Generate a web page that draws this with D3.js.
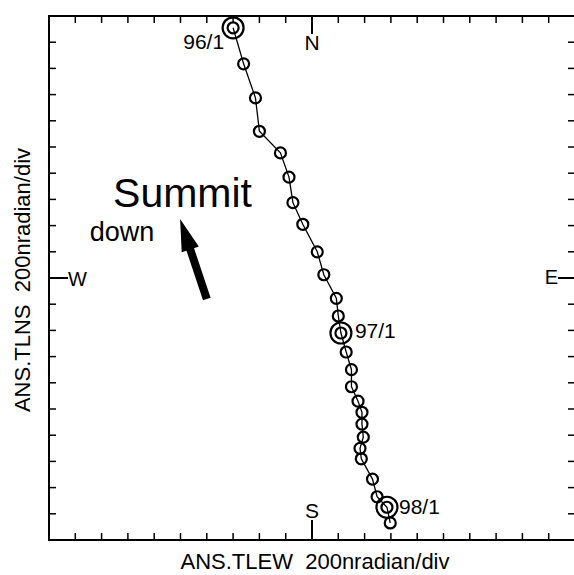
<!DOCTYPE html>
<html>
<head>
<meta charset="utf-8">
<script src="https://cdn.jsdelivr.net/npm/d3@7"></script>
<style>
  body { margin: 0; background: #fff; }
  svg { display: block; font-family: "Liberation Sans", Arial, sans-serif; }
  text { white-space: pre; }
</style>
</head>
<body>
<svg width="574" height="575"></svg>
<script>
// monthly tilt readings, Jan 1996 .. Feb 1998 (nradian)
var months = ['96/1','96/2','96/3','96/4','96/5','96/6','96/7','96/8','96/9','96/10','96/11','96/12',
              '97/1','97/2','97/3','97/4','97/5','97/6','97/7','97/8','97/9','97/10','97/11','97/12',
              '98/1','98/2'];
var tlew = [-600, -520, -430, -400, -240, -175, -145, -70, 40, 90, 185, 200,
            220, 260, 300, 300, 350, 380, 380, 390, 365, 375, 460, 495,
            570, 595];
var tlns = [1910, 1635, 1375, 1120, 955, 770, 575, 410, 200, 25, -155, -290,
            -420, -565, -700, -830, -940, -1025, -1115, -1215, -1300, -1380, -1535, -1670,
            -1750, -1870];
var marked = ['96/1', '97/1', '98/1'];
var tickValues = d3.range(-2000, 2001, 200);

var svg = d3.select('svg');

var x = d3.scaleLinear().domain([-2000, 2000]).range([49, 575]);
var y = d3.scaleLinear().domain([-2000, 2000]).range([540, 16]);

var pts = months.map(function (m, i) { return { m: m, x: tlew[i], y: tlns[i] }; });

// frame
svg.append('rect')
    .attr('x', x(-2000)).attr('y', y(2000))
    .attr('width', x(2000) - x(-2000) + 1).attr('height', y(-2000) - y(2000))
    .attr('fill', 'none').attr('stroke', '#000').attr('stroke-width', 2);

// inward ticks on all four sides
var inner = tickValues.filter(function (v) { return v !== -2000 && v !== 2000 && v !== 0; });
var tk = svg.append('g').attr('stroke', '#000').attr('stroke-width', 1.5);
inner.forEach(function (v) {
    tk.append('line').attr('x1', x(v)).attr('x2', x(v)).attr('y1', y(2000)).attr('y2', y(2000) + 7);
    tk.append('line').attr('x1', x(v)).attr('x2', x(v)).attr('y1', y(-2000)).attr('y2', y(-2000) - 7);
    tk.append('line').attr('y1', y(v)).attr('y2', y(v)).attr('x1', x(-2000)).attr('x2', x(-2000) + 7);
    tk.append('line').attr('y1', y(v)).attr('y2', y(v)).attr('x1', x(2000)).attr('x2', x(2000) - 7);
});

// compass ticks
var ct = svg.append('g').attr('stroke', '#000').attr('stroke-width', 2);
ct.append('line').attr('x1', x(0)).attr('x2', x(0)).attr('y1', y(2000)).attr('y2', y(2000) + 18);
ct.append('line').attr('x1', x(0)).attr('x2', x(0)).attr('y1', y(-2000)).attr('y2', y(-2000) - 20);
ct.append('line').attr('y1', y(0)).attr('y2', y(0)).attr('x1', x(-2000)).attr('x2', x(-2000) + 19);
ct.append('line').attr('y1', y(0)).attr('y2', y(0)).attr('x1', x(2000)).attr('x2', x(2000) - 17);

svg.append('text').text('N').attr('x', x(0)).attr('y', y(2000) + 34)
    .attr('text-anchor', 'middle').style('font-size', '21px');
svg.append('text').text('S').attr('x', x(0)).attr('y', y(-2000) - 22)
    .attr('text-anchor', 'middle').style('font-size', '21px');
svg.append('text').text('W').attr('x', x(-2000) + 19).attr('y', y(0) + 8)
    .style('font-size', '20px');
svg.append('text').text('E').attr('x', x(2000) - 17).attr('y', y(0) + 6)
    .attr('text-anchor', 'end').style('font-size', '20px');

// axis titles
svg.append('text').text('ANS.TLEW  200nradian/div')
    .attr('x', 315).attr('y', 569).attr('text-anchor', 'middle')
    .style('font-size', '22px');
svg.append('text').text('ANS.TLNS  200nradian/div')
    .attr('transform', 'translate(30,280) rotate(-90)')
    .attr('text-anchor', 'middle').style('font-size', '22px');

// track
var line = d3.line().x(function (d) { return x(d.x); }).y(function (d) { return y(d.y); });
svg.append('path').datum(pts).attr('d', line)
    .attr('fill', 'none').attr('stroke', '#000').attr('stroke-width', 1.3);

svg.append('g').selectAll('circle').data(pts).join('circle')
    .attr('cx', function (d) { return x(d.x); })
    .attr('cy', function (d) { return y(d.y); })
    .attr('r', 5.5)
    .attr('fill', 'none').attr('stroke', '#000').attr('stroke-width', 2.2);

var big = pts.filter(function (d) { return marked.indexOf(d.m) >= 0; });
svg.append('g').selectAll('circle').data(big).join('circle')
    .attr('cx', function (d) { return x(d.x); })
    .attr('cy', function (d) { return y(d.y); })
    .attr('r', 10.5)
    .attr('fill', 'none').attr('stroke', '#000').attr('stroke-width', 2.2);

var labelOff = { '96/1': [-9, 21, 'end'], '97/1': [14, 5, 'start'], '98/1': [12, 7, 'start'] };
svg.append('g').selectAll('text').data(big).join('text')
    .text(function (d) { return d.m; })
    .attr('x', function (d) { return x(d.x) + labelOff[d.m][0]; })
    .attr('y', function (d) { return y(d.y) + labelOff[d.m][1]; })
    .attr('text-anchor', function (d) { return labelOff[d.m][2]; })
    .style('font-size', '21px');

// summit-down annotation
svg.append('text').text('Summit').attr('x', x(-1513)).attr('y', y(542))
    .style('font-size', '41px');
svg.append('text').text('down').attr('x', x(-1690)).attr('y', y(282))
    .style('font-size', '27px');

var tip = [x(-1003), y(450)], tail = [x(-800), y(-160)];
var dx = tip[0] - tail[0], dy = tip[1] - tail[1];
var len = Math.sqrt(dx * dx + dy * dy), ang = Math.atan2(dy, dx) * 180 / Math.PI;
var headL = 32, headW = 9, shaftW = 4;
svg.append('path')
    .attr('transform', 'translate(' + tail[0] + ',' + tail[1] + ') rotate(' + ang + ')')
    .attr('d', 'M0,' + (-shaftW) + 'L' + (len - headL) + ',' + (-shaftW) +
               'L' + (len - headL) + ',' + (-headW) + 'L' + len + ',0' +
               'L' + (len - headL) + ',' + headW + 'L' + (len - headL) + ',' + shaftW +
               'L0,' + shaftW + 'Z')
    .attr('fill', '#000');
</script>
</body>
</html>
